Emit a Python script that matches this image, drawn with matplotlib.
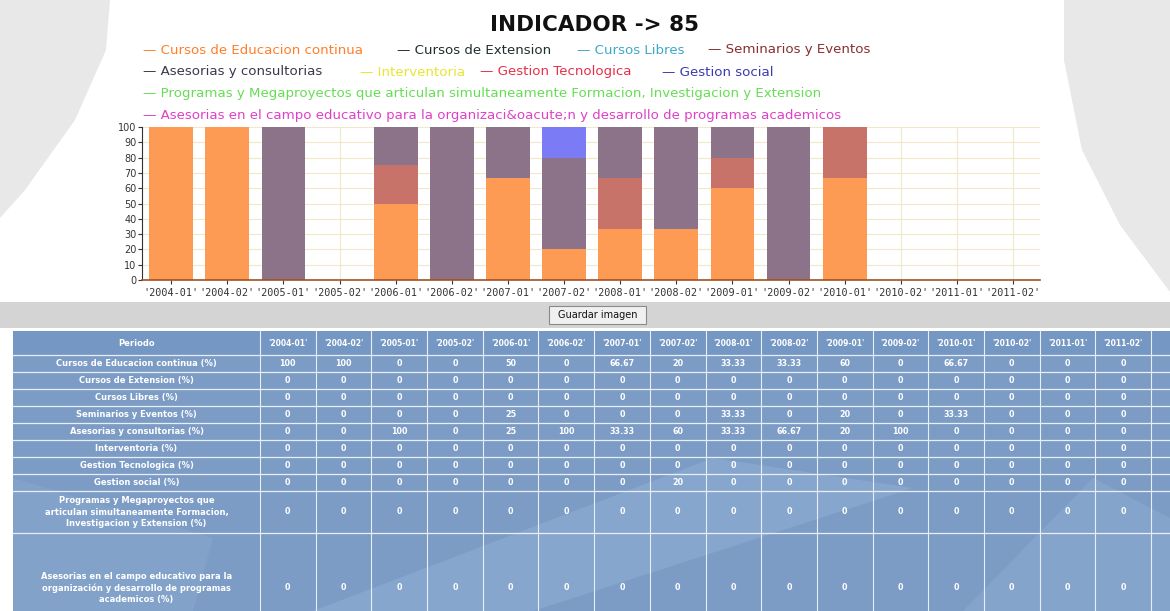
import matplotlib
matplotlib.use("Agg")
import matplotlib.pyplot as plt
from matplotlib.patches import Rectangle, Polygon
import numpy as np

periods = ["'2004-01'", "'2004-02'", "'2005-01'", "'2005-02'", "'2006-01'", "'2006-02'",
           "'2007-01'", "'2007-02'", "'2008-01'", "'2008-02'", "'2009-01'", "'2009-02'",
           "'2010-01'", "'2010-02'", "'2011-01'", "'2011-02'"]

series_names = ["Cursos de Educacion continua", "Cursos de Extension", "Cursos Libres",
                "Seminarios y Eventos", "Asesorias y consultorias", "Interventoria",
                "Gestion Tecnologica", "Gestion social",
                "Programas y Megaproyectos que articulan simultaneamente Formacion, Investigacion y Extension",
                "Asesorias en el campo educativo para la organizaci&oacute;n y desarrollo de programas academicos"]

table_row_labels = ["Cursos de Educacion continua (%)", "Cursos de Extension (%)", "Cursos Libres (%)",
                    "Seminarios y Eventos (%)", "Asesorias y consultorias (%)", "Interventoria (%)",
                    "Gestion Tecnologica (%)", "Gestion social (%)",
                    "Programas y Megaproyectos que\narticulan simultaneamente Formacion,\nInvestigacion y Extension (%)",
                    "Asesorias en el campo educativo para la\norganización y desarrollo de programas\nacademicos (%)"]

educacion_continua = [100, 100, 0, 0, 50, 0, 66.67, 20, 33.33, 33.33, 60, 0, 66.67, 0, 0, 0]
cursos_extension   = [0] * 16
cursos_libres      = [0] * 16
seminarios_eventos = [0, 0, 0, 0, 25, 0, 0, 0, 33.33, 0, 20, 0, 33.33, 0, 0, 0]
asesorias_consult  = [0, 0, 100, 0, 25, 100, 33.33, 60, 33.33, 66.67, 20, 100, 0, 0, 0, 0]
interventoria      = [0] * 16
gestion_tecnologica = [0] * 16
gestion_social     = [0, 0, 0, 0, 0, 0, 0, 20, 0, 0, 0, 0, 0, 0, 0, 0]
programas_mega     = [0] * 16
asesorias_campo    = [0] * 16

all_series = [educacion_continua, cursos_extension, cursos_libres, seminarios_eventos,
              asesorias_consult, interventoria, gestion_tecnologica, gestion_social,
              programas_mega, asesorias_campo]

bar_colors = ["#fd9a54", "#666677", "#88cccc", "#c8736a", "#8c7389",
              "#eeee88", "#ff8888", "#7b7bf5", "#99ee99", "#ee99dd"]
legend_colors = ["#ff7f2a", "#1f2f2f", "#3fa9c9", "#8b2f2f", "#3a3a4a",
                 "#e6e633", "#e8304a", "#3b3bb0", "#66dd55", "#e040c8"]

W, H = 1170, 611
fig = plt.figure(figsize=(W / 100, H / 100), dpi=100)
fig.patch.set_facecolor("white")

def fx(px):
    return px / W

def fy(py):
    return 1 - py / H

# background watermark shapes
bg = fig.add_axes([0, 0, 1, 1])
bg.set_xlim(0, W)
bg.set_ylim(H, 0)
bg.axis("off")
bg.add_patch(Polygon([(0, 0), (110, 0), (106, 50), (75, 120), (25, 190), (0, 218)],
                     closed=True, facecolor="#e8e8e8", edgecolor="none"))
bg.add_patch(Polygon([(1064, 0), (1170, 0), (1170, 292), (1120, 225), (1082, 150), (1064, 60)],
                     closed=True, facecolor="#e8e8e8", edgecolor="none"))
# grey band + button
bg.add_patch(Rectangle((0, 302), W, 26, facecolor="#d4d4d4", edgecolor="none"))
bg.add_patch(Rectangle((549, 306), 97, 18, facecolor="#f0f0f0", edgecolor="#8a8a8a", lw=0.8))
bg.text(597.5, 315, "Guardar imagen", ha="center", va="center", fontsize=7, color="#111111")

# title
fig.text(fx(594), fy(25), "INDICADOR -> 85", ha="center", va="center",
         fontsize=15.5, fontweight="bold", color="#111111")

# legend as text rows
legend_pos = [(143, 50), (397, 50), (577, 50), (708, 50),
              (143, 72), (360, 72), (480, 72), (662, 72),
              (143, 93), (143, 116)]
for name, col, (px, py) in zip(series_names, legend_colors, legend_pos):
    fig.text(fx(px), fy(py), "\u2014 " + name, ha="left", va="center", fontsize=9.6, color=col)

# bar chart
ax = fig.add_axes([fx(142), fy(280), fx(1040 - 142), (280 - 127) / H])
x = np.arange(len(periods))
bottom = np.zeros(len(periods))
for vals, col, name in zip(all_series, bar_colors, series_names):
    v = np.array(vals, dtype=float)
    ax.bar(x, v, width=0.78, bottom=bottom, color=col, edgecolor="none", label=name, zorder=2)
    bottom += v
ax.set_xlim(-0.52, len(periods) - 0.52)
ax.set_ylim(0, 100)
ax.set_yticks(np.arange(0, 101, 10))
ax.set_xticks(x)
ax.set_xticklabels(periods, fontsize=7.3, family="DejaVu Sans Mono", color="#333333")
ax.tick_params(axis="y", labelsize=7, colors="#333333", length=3, width=0.8, pad=1)
ax.tick_params(axis="x", length=3, width=0.8, colors="#333333", pad=3)
ax.grid(True, color="#f0e8c8", lw=0.8, zorder=0)
for s in ["top", "right"]:
    ax.spines[s].set_visible(False)
ax.spines["left"].set_color("#333333")
ax.spines["bottom"].set_color("#a0521e")
ax.spines["bottom"].set_linewidth(1.2)
ax.set_facecolor("none")

# table
tx0, ty0 = 13, 331
tax = fig.add_axes([fx(tx0), 0, fx(W - tx0), (H - ty0) / H])
tax.set_xlim(0, W - tx0)
tax.set_ylim(H - ty0, 0)
tax.axis("off")
first_w = 260 - tx0
col_w = (1151 - 260) / len(periods)
row_h = [24] + [17] * 8 + [42, 110]
row_edges = np.concatenate([[0], np.cumsum(row_h)])
cell_col = "#7c9cc6"
header_col = "#7597c4"
tax.add_patch(Rectangle((0, 0), W - tx0, H - ty0, facecolor=cell_col, edgecolor="none"))
tax.add_patch(Rectangle((0, 0), W - tx0, row_h[0], facecolor=header_col, edgecolor="none"))
# watermark streaks in table
tax.add_patch(Polygon([(300, 280), (700, 127), (900, 157), (520, 280)], closed=True,
                      facecolor="#8fadd2", edgecolor="none", alpha=0.6))
tax.add_patch(Polygon([(0, 147), (200, 207), (180, 280), (0, 280)], closed=True,
                      facecolor="#8aa8cf", edgecolor="none", alpha=0.5))
tax.add_patch(Polygon([(950, 280), (1080, 147), (1157, 187), (1157, 280)], closed=True,
                      facecolor="#8fadd2", edgecolor="none", alpha=0.5))

col_edges = [0, first_w] + [first_w + col_w * (i + 1) for i in range(len(periods))]
for xe in col_edges[1:]:
    tax.plot([xe, xe], [0, H - ty0], color="#e8eef6", lw=0.8)
for ye in row_edges[1:-1]:
    tax.plot([0, W - tx0], [ye, ye], color="#e8eef6", lw=0.9)

tax.text(first_w / 2, row_h[0] / 2, "Periodo", ha="center", va="center",
         fontsize=6, color="white", fontweight="bold")
for i, p in enumerate(periods):
    tax.text(first_w + col_w * (i + 0.5), row_h[0] / 2, p, ha="center", va="center",
             fontsize=5.5, color="white", fontweight="bold")

def fmt(v):
    return ("%g" % v)

for r, (lab, vals) in enumerate(zip(table_row_labels, all_series)):
    y_top, y_bot = row_edges[r + 1], row_edges[r + 2]
    yc = (y_top + y_bot) / 2 if r < 9 else y_top + 55
    tax.text(first_w / 2, yc, lab, ha="center", va="center", fontsize=6, color="white",
             fontweight="bold", linespacing=1.3)
    for i, v in enumerate(vals):
        tax.text(first_w + col_w * (i + 0.5), yc, fmt(v), ha="center", va="center",
                 fontsize=5.8, color="white", fontweight="bold")

fig.savefig("out.png", dpi=100)
